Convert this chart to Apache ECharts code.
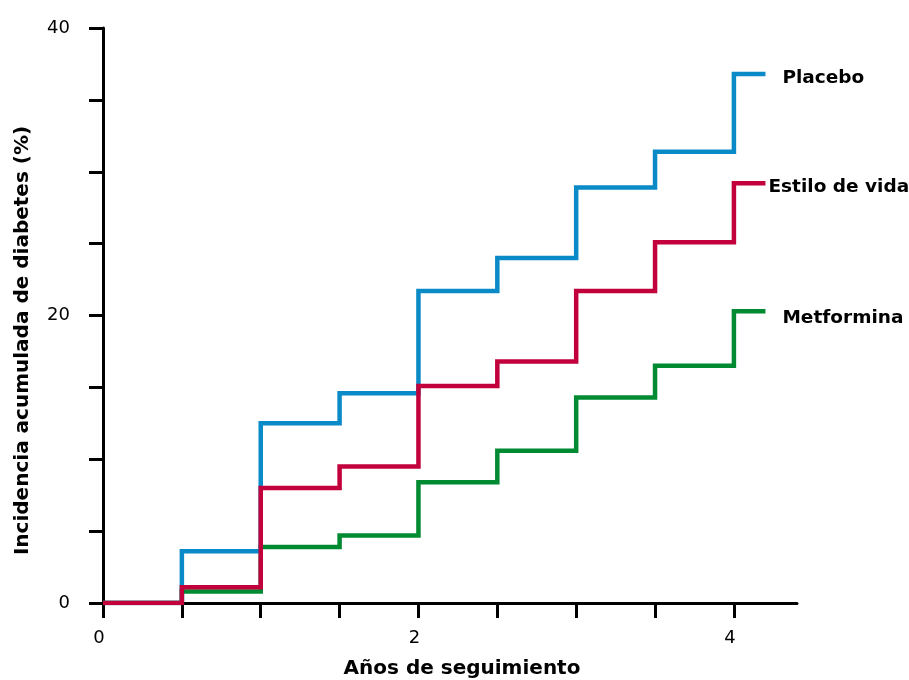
<!DOCTYPE html>
<html><head><meta charset="utf-8">
<script src="https://cdn.jsdelivr.net/npm/echarts@6/dist/echarts.min.js"></script>
<style>html,body{margin:0;padding:0;background:#fff}#c{width:909px;height:680px}</style>
</head><body><div id="c"></div>
<script>
const years = [0, 0.5, 1, 1.5, 2, 2.5, 3, 3.5, 4, 4.2];
const placebo = [0, 3.6, 12.5, 14.6, 21.7, 24.0, 28.9, 31.4, 36.8, 36.8];
const estilo = [0, 1.1, 8.0, 9.5, 15.1, 16.8, 21.7, 25.1, 29.2, 29.2];
const metformina = [0, 0.8, 3.9, 4.7, 8.4, 10.6, 14.3, 16.5, 20.3, 20.3];
const seriesNames = ['Placebo', 'Estilo de vida', 'Metformina'];
const xTickLabels = [0, 2, 4];
const yTickLabels = [0, 20, 40];

const FONT = 'DejaVu Sans';
const chart = echarts.init(document.getElementById('c'), null, {renderer: 'canvas'});
function mk(name, vals, color, z, offset) {
  return {
    name: name, type: 'line', step: 'end', z: z,
    data: years.map((x, i) => [x, vals[i]]),
    showSymbol: false, symbol: 'none',
    lineStyle: {color: color, width: 4.5, cap: 'butt', join: 'miter'},
    itemStyle: {color: color},
    animation: false,
    endLabel: {show: true, formatter: name, color: '#000', fontFamily: FONT, fontWeight: 'bold', fontSize: 18.5, offset: offset, align: 'left'}
  };
}
chart.setOption({
  animation: false,
  grid: {left: 103, right: 112, top: 28, bottom: 77, containLabel: false, outerBoundsMode: 'none'},
  xAxis: {
    type: 'value', min: 0, max: 4.4, interval: 0.5,
    name: 'Años de seguimiento', nameLocation: 'middle', nameGap: 56,
    nameTextStyle: {fontFamily: FONT, fontWeight: 'bold', fontSize: 20, color: '#000', padding: [0, 0, 0, 24]},
    axisLine: {show: true, lineStyle: {color: '#000', width: 3}},
    axisTick: {show: true, length: 15, lineStyle: {color: '#000', width: 3}, customValues: [0,0.5,1,1.5,2,2.5,3,3.5,4]},
    axisLabel: {fontFamily: FONT, fontSize: 18, color: '#000', margin: 26, padding: [0, 8, 0, 0],
      customValues: xTickLabels, formatter: v => String(v)},
    splitLine: {show: false}
  },
  yAxis: {
    type: 'value', min: 0, max: 40, interval: 5,
    name: 'Incidencia acumulada de diabetes (%)', nameLocation: 'middle', nameGap: 70, nameRotate: 90,
    nameTextStyle: {fontFamily: FONT, fontWeight: 'bold', fontSize: 20, color: '#000', padding: [0, 50, 0, 0]},
    axisLine: {show: true, lineStyle: {color: '#000', width: 3}},
    axisTick: {show: true, length: 14, lineStyle: {color: '#000', width: 3}},
    axisLabel: {fontFamily: FONT, fontSize: 18, color: '#000', margin: 33, padding: [8, 0, 0, 0],
      formatter: v => yTickLabels.includes(v) ? String(v) : ''},
    splitLine: {show: false}
  },
  series: [
    mk(seriesNames[2], metformina, '#008a32', 2, [9, 7]),
    mk(seriesNames[0], placebo, '#0a8ac6', 3, [9, 4]),
    mk(seriesNames[1], estilo, '#c2003c', 4, [-5, 4])
  ]
});
</script></body></html>
